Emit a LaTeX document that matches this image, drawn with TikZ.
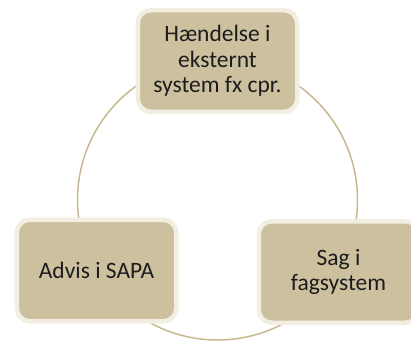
\documentclass[tikz,border=0pt]{standalone}
\usepackage{fontspec}
\setmainfont{Carlito}
\definecolor{boxfill}{HTML}{CCC09F}
\definecolor{boxedge}{HTML}{F2EEE1}
\definecolor{ringcol}{HTML}{C8B88F}
\definecolor{txtcol}{HTML}{1C1C1C}
\begin{document}
\begin{tikzpicture}[x=1pt,y=-1pt,
  cyclebox/.style={draw=boxedge, line width=4.5pt, fill=boxfill, rounded corners=13pt,
    minimum width=159.5pt, minimum height=101.5pt, inner sep=0pt, align=center,
    text=txtcol, font=\fontsize{23.5}{25.5}\selectfont},
  ring/.style={draw=ringcol, line width=1.5pt}]
\useasboundingbox (0,0) rectangle (411,342);
\clip (0,0) rectangle (411,342);
\coordinate (c) at (217.5,200);
\draw[ring] (c) circle[radius=140];
\node[cyclebox] (top) at (217.5,61) {Hændelse i\\eksternt\\system fx cpr.};
\node[cyclebox] (left) at (96.5,270.5) {Advis i SAPA};
\node[cyclebox] (right) at (338.5,272) {Sag i\\fagsystem};
\end{tikzpicture}
\end{document}
